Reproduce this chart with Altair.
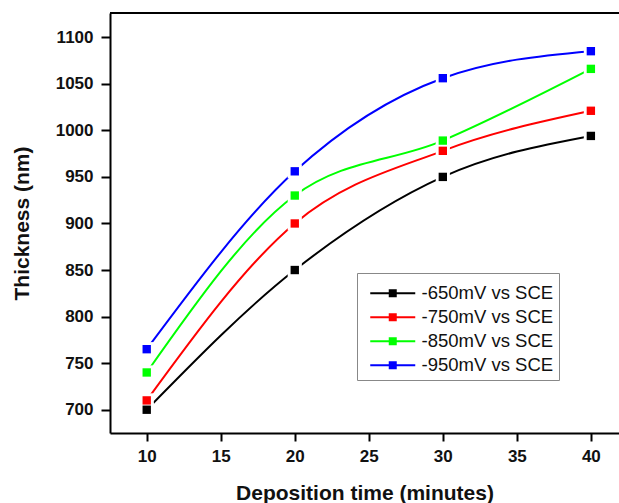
import altair as alt
import pandas as pd

times = [10, 20, 30, 40]
series_names = ["-650mV vs SCE", "-750mV vs SCE", "-850mV vs SCE", "-950mV vs SCE"]
v650 = [700, 850, 950, 994]
v750 = [710, 900, 978, 1021]
v850 = [740, 930, 989, 1066]
v950 = [765, 956, 1056, 1085]
colors = ["#000000", "#ff0000", "#00ff00", "#0000ff"]

rows = []
for name, vals in zip(series_names, [v650, v750, v850, v950]):
    for t, v in zip(times, vals):
        rows.append({"time": t, "thickness": v, "series": name})
df = pd.DataFrame(rows)

W, H = 509, 420
FONT = "Liberation Sans"

x = alt.X("time:Q", scale=alt.Scale(domain=[7.52, 41.9], nice=False, zero=False),
          axis=alt.Axis(title="Deposition time (minutes)", values=[10, 15, 20, 25, 30, 35, 40],
                        format="d",
                        grid=False, tickSize=8, tickWidth=2, domainWidth=2, domainColor="black",
                        tickColor="black", labelFont=FONT, labelFontWeight="bold", labelFontSize=17,
                        labelPadding=7, titleFont=FONT, titleFontWeight="bold", titleFontSize=21,
                        titlePadding=18, labelColor="#111", titleColor="#111"))
y = alt.Y("thickness:Q", scale=alt.Scale(domain=[675, 1126], nice=False, zero=False),
          axis=alt.Axis(title="Thickness (nm)", values=[700, 750, 800, 850, 900, 950, 1000, 1050, 1100],
                        format="d",
                        grid=False, tickSize=9, tickWidth=2, domainWidth=2, domainColor="black",
                        tickColor="black", labelFont=FONT, labelFontWeight="bold", labelFontSize=17,
                        labelPadding=8, titleFont=FONT, titleFontWeight="bold", titleFontSize=21,
                        titlePadding=23, labelColor="#111", titleColor="#111"))
color_scale = alt.Scale(domain=series_names, range=colors)

base = alt.Chart(df)

lines = base.mark_line(interpolate="monotone", strokeWidth=2).encode(
    x=x, y=y, color=alt.Color("series:N", scale=color_scale, legend=None),
    detail="series:N")

halo = base.mark_point(shape="square", filled=True, size=200, color="white", opacity=1).encode(
    x=x, y=y)

# legend glyph: line - square - line (unit = 8 px, symbol centre at 8 px from entry start)
sym_path = ("M-1,-0.125L4.625,-0.125L4.625,0.125L-1,0.125Z "
            "M1.3125,-0.5L2.3125,-0.5L2.3125,0.5L1.3125,0.5Z")
points = base.mark_point(shape="square", filled=True, size=70, opacity=1).encode(
    x=x, y=y,
    color=alt.Color("series:N", scale=color_scale,
                    legend=alt.Legend(title=" ", titleFontSize=1, titlePadding=5,
                                      orient="none", legendX=247, legendY=260,
                                      symbolType=sym_path, symbolSize=256, symbolStrokeWidth=0,
                                      symbolOpacity=1, symbolOffset=7,
                                      labelFont=FONT, labelFontSize=18.5, labelColor="#111",
                                      labelOffset=34, rowPadding=5, padding=5,
                                      strokeColor="#888888", fillColor="white")))

top_border = alt.Chart(pd.DataFrame({"a": [0]})).mark_rule(color="black", strokeWidth=2).encode(
    x=alt.value(0), x2=alt.value(W), y=alt.value(0))

chart = alt.layer(lines, halo, points, top_border).resolve_legend(color="independent").properties(
    width=W, height=H,
    autosize=alt.AutoSizeParams(type="none"),
    padding={"left": 110, "top": 13, "right": 0, "bottom": 70},
    background="white",
).configure_view(stroke=None)

chart.save("out.html", embed_options={"renderer": "svg", "actions": False})
